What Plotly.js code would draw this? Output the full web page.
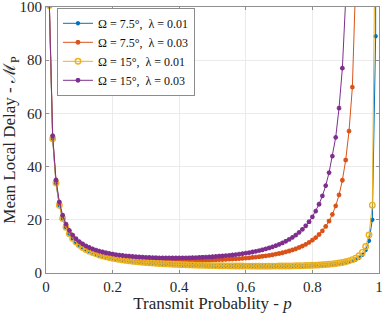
<!DOCTYPE html>
<html>
<head>
<meta charset="utf-8">
<script src="https://cdn.plot.ly/plotly-3.0.1.min.js"></script>
<style>html,body{margin:0;padding:0;background:#fff;}#chart{width:382px;height:313px;}</style>
</head>
<body>
<div id="chart"></div>
<script>
// Transmit probability p
const p = [0.01,0.02,0.03,0.04,0.05,0.06,0.07,0.08,0.09,0.10,
  0.11,0.12,0.13,0.14,0.15,0.16,0.17,0.18,0.19,0.20,
  0.21,0.22,0.23,0.24,0.25,0.26,0.27,0.28,0.29,0.30,
  0.31,0.32,0.33,0.34,0.35,0.36,0.37,0.38,0.39,0.40,
  0.41,0.42,0.43,0.44,0.45,0.46,0.47,0.48,0.49,0.50,
  0.51,0.52,0.53,0.54,0.55,0.56,0.57,0.58,0.59,0.60,
  0.61,0.62,0.63,0.64,0.65,0.66,0.67,0.68,0.69,0.70,
  0.71,0.72,0.73,0.74,0.75,0.76,0.77,0.78,0.79,0.80,
  0.81,0.82,0.83,0.84,0.85,0.86,0.87,0.88,0.89,0.90,
  0.91,0.92,0.93,0.94,0.95,0.96,0.97,0.98,0.99,0.999];

// Omega = 7.5 deg, lambda = 0.01
const delayO75L01 = [100.4,50.45,33.78,25.45,20.46,17.13,14.75,12.97,11.58,10.47,
  9.57,8.82,8.18,7.63,7.16,6.75,6.39,6.06,5.78,5.52,
  5.28,5.07,4.88,4.70,4.54,4.39,4.26,4.13,4.01,3.90,
  3.80,3.71,3.62,3.54,3.46,3.39,3.32,3.25,3.19,3.14,
  3.09,3.04,2.99,2.94,2.90,2.86,2.83,2.79,2.76,2.73,
  2.70,2.68,2.65,2.63,2.61,2.59,2.57,2.56,2.54,2.53,
  2.52,2.51,2.50,2.50,2.50,2.49,2.49,2.50,2.50,2.51,
  2.52,2.53,2.54,2.56,2.58,2.60,2.63,2.67,2.70,2.75,
  2.80,2.85,2.92,3.00,3.09,3.20,3.32,3.48,3.66,3.89,
  4.17,4.55,5.05,5.76,6.83,8.61,12.1,20.0,89.0,100000];

// Omega = 7.5 deg, lambda = 0.03
const delayO75L03 = [101.3,51.31,34.66,26.34,21.36,18.04,15.68,13.91,12.54,11.44,
  10.55,9.82,9.20,8.67,8.21,7.82,7.47,7.17,6.90,6.66,
  6.44,6.25,6.08,5.93,5.79,5.66,5.55,5.45,5.36,5.28,
  5.20,5.14,5.08,5.03,4.98,4.94,4.91,4.88,4.86,4.84,
  4.83,4.82,4.82,4.82,4.83,4.84,4.86,4.88,4.91,4.94,
  4.98,5.03,5.08,5.13,5.19,5.26,5.34,5.42,5.51,5.61,
  5.72,5.84,5.98,6.12,6.28,6.45,6.64,6.85,7.08,7.33,
  7.62,7.93,8.27,8.66,9.10,9.59,10.14,10.77,11.50,12.34,
  13.32,14.48,15.85,17.50,19.53,22.04,25.22,29.36,34.86,42.46,
  53.35,69.86,110,145,null,null,null,null,null,null];

// Omega = 15 deg, lambda = 0.01
const delayO15L01 = [100.5,50.48,33.81,25.48,20.49,17.16,14.78,13.00,11.61,10.51,
  9.60,8.85,8.21,7.67,7.20,6.78,6.42,6.10,5.81,5.55,
  5.32,5.11,4.92,4.74,4.58,4.43,4.30,4.17,4.05,3.95,
  3.84,3.75,3.66,3.58,3.50,3.43,3.37,3.30,3.24,3.19,
  3.13,3.09,3.04,3.00,2.96,2.92,2.88,2.85,2.82,2.79,
  2.76,2.74,2.71,2.69,2.67,2.66,2.64,2.63,2.61,2.60,
  2.59,2.59,2.58,2.58,2.58,2.58,2.58,2.59,2.60,2.61,
  2.62,2.63,2.65,2.67,2.70,2.73,2.76,2.80,2.85,2.90,
  2.96,3.03,3.10,3.19,3.30,3.43,3.57,3.75,3.97,4.23,
  4.57,5.01,5.61,6.46,7.75,9.94,14.3,25.5,150,100000];

// Omega = 15 deg, lambda = 0.03
const delayO15L03 = [101.6,51.62,34.98,26.67,21.69,18.38,16.02,14.26,12.90,11.81,
  10.93,10.20,9.59,9.07,8.62,8.24,7.90,7.61,7.35,7.12,
  6.92,6.74,6.58,6.44,6.31,6.20,6.10,6.02,5.94,5.87,
  5.82,5.77,5.73,5.70,5.67,5.66,5.65,5.64,5.64,5.65,
  5.67,5.69,5.72,5.75,5.80,5.85,5.90,5.96,6.03,6.11,
  6.20,6.30,6.40,6.52,6.64,6.78,6.93,7.09,7.27,7.46,
  7.67,7.90,8.15,8.43,8.73,9.06,9.42,9.83,10.27,10.76,
  11.31,11.92,12.61,13.39,14.26,15.27,16.42,17.74,19.29,21.11,
  23.26,25.85,28.99,32.86,37.72,43.93,51.0,62.0,77.0,103,
  133,null,null,null,null,null,null,null,null,null];

const seriesNames = ['Ω = 7.5°,  λ = 0.01','Ω = 7.5°,  λ = 0.03','Ω = 15°,  λ = 0.01','Ω = 15°,  λ = 0.03'];
const seriesValues = [delayO75L01, delayO75L03, delayO15L01, delayO15L03];
const colors = ['#0072BD','#D95319','#EDB120','#7E2F8E'];
const symbols = ['asterisk-open','asterisk-open','circle-open','asterisk-open'];
const sizes = [3.5,4,5.5,4];

const font = '"Liberation Serif", "DejaVu Serif", serif';

const traces = seriesValues.map((v,i)=>({
  x: p, y: v, name: seriesNames[i], type:'scatter', mode:'lines+markers',
  line:{color:colors[i], width:1},
  marker:{symbol:symbols[i], size:sizes[i], color:colors[i], line:{color:colors[i], width:1.4}},
  connectgaps:false
}));

const axisCommon = {
  showline:true, linecolor:'#8f8f8f', linewidth:1, mirror:'ticks',
  ticks:'inside', ticklen:3, tickcolor:'#8f8f8f',
  showgrid:true, gridcolor:'#ebebeb', gridwidth:1, zeroline:false,
  ticklabeloverflow:'allow',
  tickfont:{family:font, size:15, color:'#262626'}
};

const layout = {
  width:382, height:313,
  margin:{l:46, r:3, t:7, b:40},
  paper_bgcolor:'#fff', plot_bgcolor:'#fff',
  showlegend:true,
  xaxis: Object.assign({}, axisCommon, {
    range:[0,1], dtick:0.2, tick0:0,
    title:{text:'Transmit Probablity - <i>p</i>', font:{family:font, size:17, color:'#262626'}, standoff:2}
  }),
  yaxis: Object.assign({}, axisCommon, {
    range:[0,100], dtick:20, tick0:0,
    title:{text:'Mean Local Delay - ℳ<sub>P</sub>', font:{family:font, size:17, color:'#262626'}, standoff:5}
  }),
  legend:{
    x:0.033, y:0.997, xanchor:'left', yanchor:'top',
    bgcolor:'#fff', bordercolor:'#8c8c8c', borderwidth:1,
    font:{family:font, size:12, color:'#111'}, itemwidth:30, tracegroupgap:0
  }
};

Plotly.newPlot('chart', traces, layout, {displayModeBar:false, staticPlot:true});
</script>
</body>
</html>
